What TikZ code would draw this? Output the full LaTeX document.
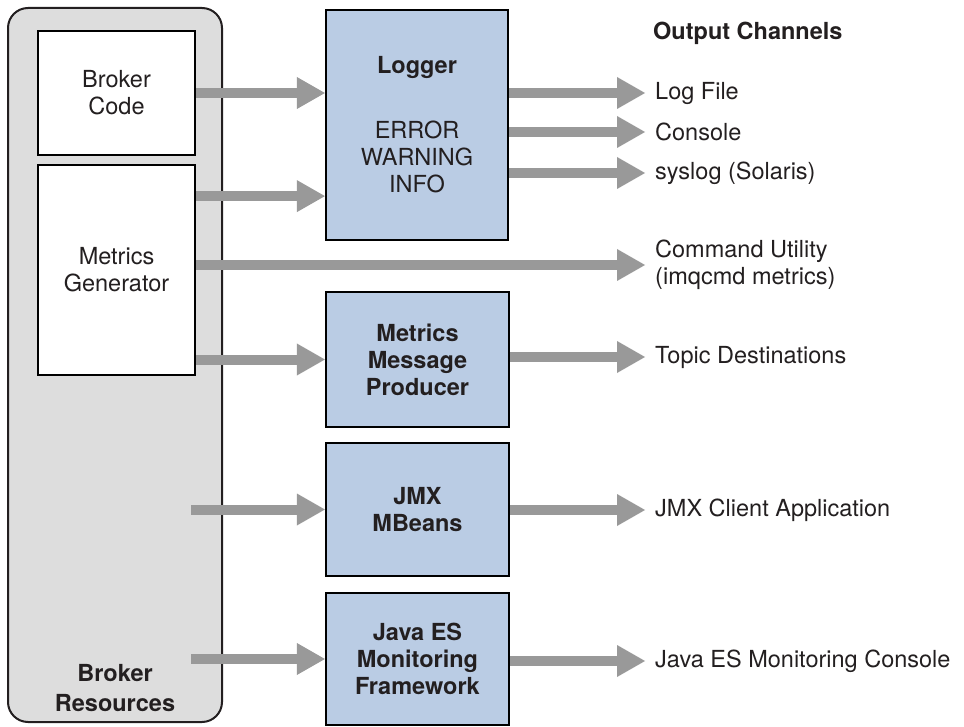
\documentclass[tikz,border=0pt]{standalone}
\usepackage{fontspec}
\setmainfont{TeX Gyre Heros}
\usetikzlibrary{arrows.meta}

\definecolor{resgray}{HTML}{DDDDDD}
\definecolor{boxblue}{HTML}{BACCE4}
\definecolor{flowgray}{HTML}{999999}
\definecolor{inkblack}{HTML}{231F20}
\newcommand{\dfont}{\fontsize{23.5}{27}\selectfont}

\tikzset{
  resbox/.style  = {shape=rectangle, rounded corners=20pt, draw=inkblack,
                    line width=2pt, fill=resgray},
  srcbox/.style  = {shape=rectangle, draw=black, line width=2.2pt,
                    fill=white, align=center},
  procbox/.style = {shape=rectangle, draw=black, line width=2.2pt,
                    fill=boxblue, align=center, font=\dfont\bfseries},
  chan/.style    = {anchor=west, inner xsep=10pt, inner ysep=0pt},
  flow/.style    = {draw=flowgray, line width=10pt,
                    -{Triangle[length=28pt, width=32pt, line width=0pt]}}
}

\begin{document}
\begin{tikzpicture}
  [
    x                 = 1pt,
    y                 = -1pt,
    every node/.style = {text=inkblack, font=\dfont}
  ]
  \useasboundingbox (0,0) rectangle (964,727);
  \node [resbox, minimum width=214, minimum height=714] (res) at (115,365) {};
  \node [font=\dfont\bfseries, align=center] (reslabel) at (115,688) {Broker\\[3pt]Resources};
  \node [srcbox, minimum width=157, minimum height=124] (code) at (116.5,93) {Broker\\Code};
  \node [srcbox, minimum width=157, minimum height=210] (gen) at (116.5,270) {Metrics\\Generator};

  \node [procbox, font=\dfont, minimum width=182, minimum height=230] (logger) at (417,125)
    {{\bfseries Logger}\\[38pt]ERROR\\WARNING\\INFO};
  \node [procbox, minimum width=183, minimum height=135] (mmp) at (417.5,359.5) {Metrics\\Message\\Producer};
  \node [procbox, minimum width=183, minimum height=133] (jmx) at (417.5,509.5) {JMX\\MBeans};
  \node [procbox, minimum width=183, minimum height=132] (javaes) at (417.5,659) {Java ES\\Monitoring\\Framework};

  \node [chan] (title) at (643,33) {\bfseries Output Channels};
  \node [chan] (logfile) at (645,93) {Log File};
  \node [chan] (console) at (645,132) {Console};
  \node [chan] (syslog) at (645,173) {syslog (Solaris)};
  \node [chan, align=left] (cmd) at (645,265) {Command Utility\\(imqcmd metrics)};
  \node [chan] (topic) at (645,357) {Topic Destinations};
  \node [chan] (jmxapp) at (645,510) {JMX Client Application};
  \node [chan] (esconsole) at (645,661) {Java ES Monitoring Console};

  \draw [flow] (code.east) -- (logger.west |- code.east);
  \draw [flow] ([yshift=45pt]gen.east |- logger.south) -- ([yshift=45pt]logger.south west);
  \draw [flow] (gen.east |- cmd.west) -- (cmd.west);
  \draw [flow] (gen.east |- mmp.west) -- (mmp.west);
  \draw [flow] ([xshift=-32pt]res.east |- jmx.west) -- (jmx.west);
  \draw [flow] ([xshift=-32pt]res.east |- javaes.west) -- (javaes.west);
  \foreach \src/\dst in {logger/logfile, logger/console, logger/syslog,
                         mmp/topic, jmx/jmxapp, javaes/esconsole}
    \draw [flow] (\src.east |- \dst.west) -- (\dst.west);
\end{tikzpicture}
\end{document}
